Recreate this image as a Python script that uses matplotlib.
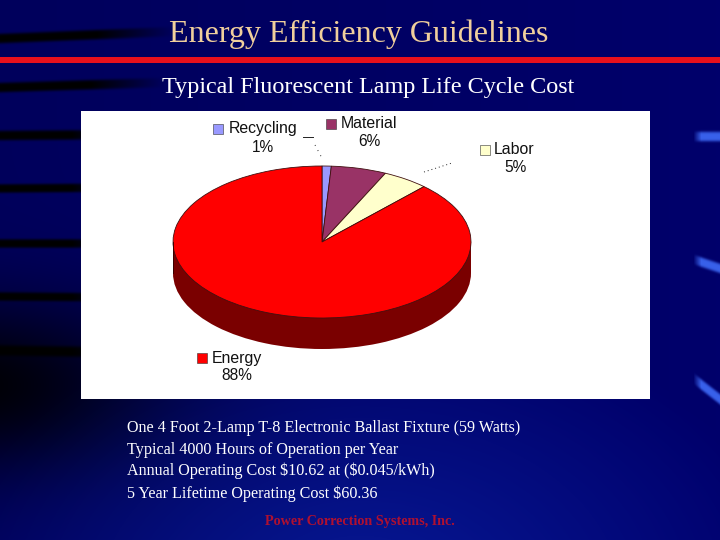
import numpy as np
import matplotlib
matplotlib.use("Agg")
import matplotlib.pyplot as plt
from matplotlib.patches import Rectangle

labels = ["Recycling", "Material", "Labor", "Energy"]
shares = [1, 6, 5, 88]
pie_colors = ["#9999ff", "#993366", "#ffffcc", "#ff0000"]
title = "Energy Efficiency Guidelines"
subtitle = "Typical Fluorescent Lamp Life Cycle Cost"
notes = ["One 4 Foot 2-Lamp T-8 Electronic Ballast Fixture (59 Watts)",
         "Typical 4000 Hours of Operation per Year",
         "Annual Operating Cost \\$10.62 at (\\$0.045/kWh)",
         "5 Year Lifetime Operating Cost \\$60.36"]
note_y = [428, 450, 471, 494]
footer = "Power Correction Systems, Inc."

W, H = 720, 540
fig = plt.figure(figsize=(W / 100, H / 100), dpi=100)
bg = fig.add_axes([0, 0, 1, 1])
bg.set_xlim(0, W)
bg.set_ylim(H, 0)
bg.axis("off")

# background: navy, dark patch low on the left, lighter glow at the bottom
yy, xx = np.mgrid[0:H, 0:W].astype(float)
glow = np.clip(1 - np.hypot((xx - 360) / 430, (yy - 600) / 300), 0, 1)
dark = np.exp(-(((xx + 40) / 190) ** 2 + ((yy - 385) / 85) ** 2))
blue = (0.36 + 0.06 * xx / W + 0.20 * glow) * (1 - 0.95 * dark)
img = np.zeros((H, W, 3))
img[..., 0] = 0.03 * glow
img[..., 1] = 0.10 * glow
img[..., 2] = blue

# soft black streaks on the left: y at x=0, y at end, end x, half thickness
for y0, y1, x_end, hw in [(38, 31, 175, 5), (87, 82, 165, 5), (135, 134, 130, 5),
                          (188, 187, 130, 4.5), (243, 243, 130, 4.5), (296, 297, 130, 4.5),
                          (350, 352, 130, 5.5)]:
    yc = y0 + (y1 - y0) * xx / x_end
    fade = np.clip((x_end - xx) / (x_end * 0.45), 0, 1)
    mask = np.exp(-((yy - yc) / hw) ** 4) * fade
    img *= (1 - mask)[..., None]

# blue streaks on the right
for y0, y1, hw in [(136, 136, 5), (259, 268, 5), (378, 399, 5.5)]:
    yc = y0 + (y1 - y0) * (xx - 693) / 27
    fade = np.clip((xx - 693) / 8, 0, 1)
    mask = np.exp(-((yy - yc) / hw) ** 4) * fade
    for k, c in enumerate((0.22, 0.38, 0.92)):
        img[..., k] = img[..., k] * (1 - mask) + c * mask

bg.imshow(img, extent=(0, W, H, 0), aspect="auto", zorder=0)

bg.add_patch(Rectangle((0, 57), W, 6, color="#e8101c", lw=0, zorder=2))
bg.add_patch(Rectangle((81, 111), 569, 288, color="white", lw=0, zorder=2))

bg.text(359, 34, title, family="Liberation Serif", fontsize=23, color="#f0cf9c",
        ha="center", va="center", zorder=3)
bg.text(368.5, 87, subtitle, family="Liberation Serif", fontsize=17.35, color="white",
        ha="center", va="center", zorder=3)
for s, y in zip(notes, note_y):
    bg.text(127, y, s, family="Liberation Serif", fontsize=11.6, color="white",
            ha="left", va="center", zorder=3)
bg.text(360, 522, footer, family="Liberation Serif", fontsize=10.2, weight="bold",
        color="#b01030", ha="center", va="center", zorder=3)

# pie axes: x and y scaled separately to give the tilted look
cx, cy, rx, ry, depth = 322, 242, 149, 76, 31
pie_ax = fig.add_axes([(cx - rx) / W, 1 - (cy + ry + depth) / H, 2 * rx / W, (2 * ry + depth) / H])
pie_ax.patch.set_alpha(0)
d = depth / ry
pie_ax.pie([1], colors=["#7a0000"], radius=1, center=(0, -d), startangle=90, frame=True,
           wedgeprops=dict(lw=0))
pie_ax.add_patch(Rectangle((-1, -d), 2, d, color="#7a0000", lw=0))
pie_ax.plot([-1, -1], [-d, 0], color="#300000", lw=0.6)
pie_ax.plot([1, 1], [-d, 0], color="#300000", lw=0.6)
pie_ax.pie(shares, colors=pie_colors, startangle=90, counterclock=False, frame=True,
           wedgeprops=dict(edgecolor="#401010", lw=0.6))
pie_ax.set_xlim(-1, 1)
pie_ax.set_ylim(-1 - d, 1)
pie_ax.set_aspect("auto")
pie_ax.axis("off")

# data labels with their small key squares
name_pos = {"Recycling": (263, 129), "Material": (369, 124), "Labor": (514, 150), "Energy": (237, 358)}
pct_pos = {"Recycling": (263, 147), "Material": (369, 142), "Labor": (515, 168), "Energy": (237, 376)}
key_x = {"Recycling": 218, "Material": 331, "Labor": 485, "Energy": 202}
for lab, val, col in zip(labels, shares, pie_colors):
    x, y = name_pos[lab]
    bg.text(x, y, lab, family="Liberation Sans", fontsize=11.4, color="#111111", ha="center", va="center", zorder=3)
    px, py = pct_pos[lab]
    bg.text(px, py, f"{val}%", family="Liberation Sans", fontsize=11.2, color="#111111", ha="center", va="center", zorder=3)
    bg.add_patch(Rectangle((key_x[lab] - 5, y - 5), 10, 10, facecolor=col, edgecolor="#333333", lw=0.4, zorder=3))

# leader lines
bg.plot([303, 313], [137, 137], color="#222222", lw=0.7, zorder=3)
bg.plot([315, 323], [145, 160], color="#222222", lw=0.7, ls=(0, (1, 5)), zorder=3)
bg.plot([424, 452], [172, 163], color="#222222", lw=0.7, ls=(0, (1, 3)), zorder=3)

fig.savefig("out.png", dpi=100)
